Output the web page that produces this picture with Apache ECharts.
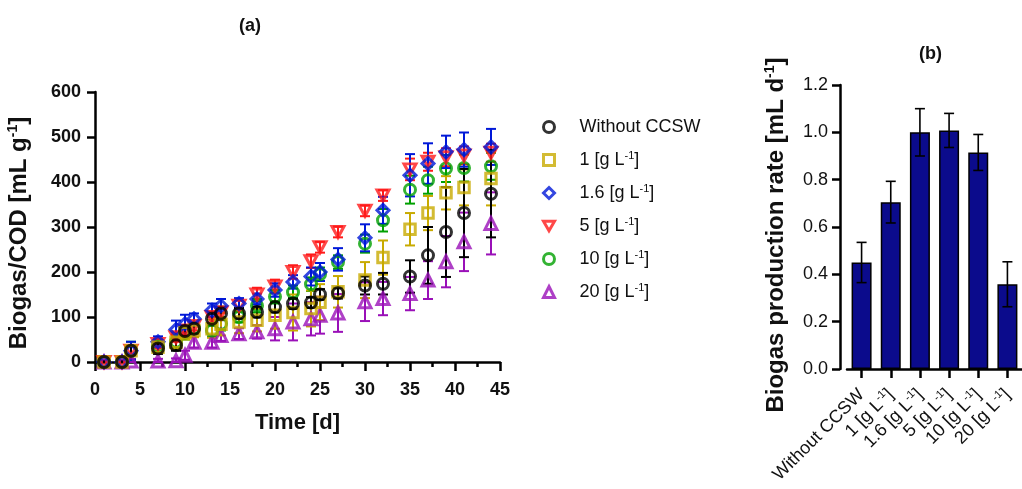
<!DOCTYPE html>
<html>
<head>
<meta charset="utf-8">
<script src="https://cdn.jsdelivr.net/npm/echarts@6/dist/echarts.min.js"></script>
<style>html,body{margin:0;padding:0;background:#fff}#c{width:1022px;height:489px}</style>
</head>
<body>
<div id="c"></div>
<script>
// ---- Data (a) ----
const days = [1,3,4,7,9,10,11,13,14,16,18,20,22,24,25,27,30,32,35,37,39,41,44];
const seriesNames = ['Without CCSW','1 [g L-1]','1.6 [g L-1]','5 [g L-1]','10 [g L-1]','20 [g L-1]'];
const noCCSW    = [0,0,25,30,37,69,74,96,108,108,111,122,130,132,150,153,170,174,190,237,289,331,374];
const noCCSWErr = [3,3,10,12,12,12,12,15,15,12,12,12,12,12,12,12,20,24,36,63,100,98,97];
const c1        = [0,0,25,33,44,65,70,74,84,89,93,104,110,119,133,156,182,232,295,331,376,388,408];
const c1Err     = [3,3,10,12,15,15,15,20,25,25,25,30,40,40,40,35,40,38,36,38,37,40,60];
const c16       = [0,0,25,45,72,85,96,115,125,130,140,160,178,190,200,228,276,337,415,441,467,472,478];
const c16Err    = [3,3,20,12,20,20,12,15,15,12,12,15,15,20,20,25,30,30,47,45,36,38,40];
const c5        = [0,0,25,40,55,70,80,100,110,125,150,168,200,224,255,289,336,370,428,445,455,459,465];
const c5Err     = [3,3,10,10,10,10,10,12,12,12,15,15,15,15,12,12,12,12,24,20,20,20,20];
const c10       = [0,0,25,35,45,65,75,70,85,100,125,145,155,173,195,222,263,315,383,404,430,431,435];
const c10Err    = [3,3,20,15,15,15,12,15,15,12,15,15,15,15,15,15,20,25,31,30,30,30,30];
const c20       = [0,0,2,2,3,15,44,44,59,63,67,74,89,96,104,109,134,141,152,182,223,267,308];
const c20Err    = [2,2,5,5,5,10,12,12,12,12,15,26,41,37,41,42,43,37,37,42,57,65,69];
const xTicks = [0,5,10,15,20,25,30,35,40,45];
const yTicks = [0,100,200,300,400,500,600];

// ---- Data (b) ----
const barCats = ['Without CCSW','1 [g L-1]','1.6 [g L-1]','5 [g L-1]','10 [g L-1]','20 [g L-1]'];
const barVals = [0.45,0.705,1.0,1.008,0.915,0.358];
const barErr  = [0.085,0.088,0.10,0.072,0.076,0.095];
const barYTicks = [0,0.2,0.4,0.6,0.8,1.0,1.2];

const FONT = 'Liberation Sans, Arial, sans-serif';
const DOWN_TRI = 'path://M0,0 L20,0 L10,17.3 Z';
const styles = [
  {color:'#000000', symbol:'circle', size:11},
  {color:'#c8aa00', symbol:'rect', size:10.5},
  {color:'#0018d8', symbol:'diamond', size:12},
  {color:'#ff1a1a', symbol:DOWN_TRI, size:[12,11]},
  {color:'#00a000', symbol:'circle', size:11},
  {color:'#9a10b8', symbol:'triangle', size:12}
];
const vals = [noCCSW,c1,c16,c5,c10,c20];
const errs = [noCCSWErr,c1Err,c16Err,c5Err,c10Err,c20Err];

function rich(n, key){
  return n.includes('-1]') ? '{'+key+'|' + n.replace('-1]', '}{s|-1}{'+key+'|]}') : '{'+key+'|' + n + '}';
}

function errRender(color, halfW, lw){
  return function(params, api){
    const x = api.value(0), y = api.value(1), e = api.value(2);
    const t = api.coord([x, y + e]);
    const b = api.coord([x, Math.max(0, y - e)]);
    const st = {stroke: color, lineWidth: lw};
    return {type:'group', children:[
      {type:'line', shape:{x1:t[0],y1:t[1],x2:b[0],y2:b[1]}, style:st},
      {type:'line', shape:{x1:t[0]-halfW,y1:t[1],x2:t[0]+halfW,y2:t[1]}, style:st},
      {type:'line', shape:{x1:b[0]-halfW,y1:b[1],x2:b[0]+halfW,y2:b[1]}, style:st}
    ]};
  };
}

const series = [];
for (let k = seriesNames.length - 1; k >= 0; k--) {
  const s = styles[k];
  series.push({
    type:'custom', name:'err'+k, xAxisIndex:0, yAxisIndex:0,
    renderItem: errRender(s.color, 5, 2),
    data: days.map((d,i)=>[d, vals[k][i], errs[k][i]]),
    silent:true, z:2
  });
  series.push({
    type:'scatter', name: seriesNames[k], xAxisIndex:0, yAxisIndex:0,
    symbol: s.symbol, symbolSize: s.size,
    itemStyle:{color:'rgba(255,255,255,0)', borderColor:s.color, borderWidth:3},
    data: days.map((d,i)=>[d, vals[k][i]]), z:3
  });
}
series.push({
  type:'bar', xAxisIndex:1, yAxisIndex:1, barWidth:20,
  itemStyle:{color:'#0b0b8c', borderColor:'#000', borderWidth:1.5},
  data: barVals
});
series.push({
  type:'custom', xAxisIndex:1, yAxisIndex:1,
  renderItem: errRender('#000', 5, 1.6),
  data: barVals.map((v,i)=>[i, v, barErr[i]]), z:4
});

const axisLine = {show:true, lineStyle:{color:'#000', width:2.5}};
const chart = echarts.init(document.getElementById('c'));
chart.setOption({
  animation:false,
  backgroundColor:'#fff',
  title:[
    {text:'(a)', left:239, top:17, padding:0, textStyle:{fontFamily:FONT, fontSize:18, fontWeight:'bold', color:'#111'}},
    {text:'(b)', left:919, top:45, padding:0, textStyle:{fontFamily:FONT, fontSize:18, fontWeight:'bold', color:'#111'}}
  ],
  legend:{
    data: seriesNames.map((n,k)=>({name:n, icon:styles[k].symbol,
      itemStyle:{color:'rgba(255,255,255,0)', borderColor:styles[k].color, borderWidth:3}})),
    orient:'vertical', left:542, top:118, padding:0,
    itemWidth:11, itemHeight:11, itemGap:14,
    formatter: n => '{g|}' + rich(n,'n'),
    textStyle:{fontFamily:FONT, color:'#111', rich:{
      g:{width:20},
      n:{fontFamily:FONT, fontSize:18, color:'#111', lineHeight:20},
      s:{fontFamily:FONT, fontSize:11, color:'#111', lineHeight:12, verticalAlign:'top'}
    }}
  },
  grid:[
    {left:95, right:522, top:92, bottom:127},
    {left:847, right:-4, top:85, bottom:120}
  ],
  xAxis:[
    {type:'value', gridIndex:0, min:xTicks[0], max:xTicks[xTicks.length-1], interval:5,
     axisLine, splitLine:{show:false},
     axisTick:{show:true, length:9, lineStyle:{color:'#000', width:2.5}},
     minorTick:{show:true, splitNumber:2, length:5, lineStyle:{color:'#000', width:2.5}},
     axisLabel:{fontFamily:FONT, fontSize:18, fontWeight:'bold', color:'#111', margin:19},
     name:'Time [d]', nameLocation:'middle', nameGap:50,
     nameTextStyle:{fontFamily:FONT, fontSize:22, fontWeight:'bold', color:'#111'}},
    {type:'category', gridIndex:1, data: barCats,
     axisLine, axisTick:{show:true, alignWithLabel:true, length:9, lineStyle:{color:'#000', width:2.5}},
     axisLabel:{rotate:45, margin:23, interval:0, formatter: v => rich(v,'n'),
       rich:{n:{fontFamily:FONT, fontSize:18, color:'#111', lineHeight:20},
             s:{fontFamily:FONT, fontSize:11, color:'#111', lineHeight:12, verticalAlign:'top'}}}}
  ],
  yAxis:[
    {type:'value', gridIndex:0, min:yTicks[0], max:yTicks[yTicks.length-1], interval:100,
     axisLine, splitLine:{show:false},
     axisTick:{show:true, length:8, lineStyle:{color:'#000', width:2.5}},
     axisLabel:{fontFamily:FONT, fontSize:18, fontWeight:'bold', color:'#111', margin:14},
     name:'{b|Biogas/COD [mL g}{s|-1}{b|]}{p|}', nameLocation:'middle', nameGap:62,
     nameTextStyle:{rich:{
       b:{fontFamily:FONT, fontSize:24, fontWeight:'bold', color:'#111', lineHeight:27},
       s:{fontFamily:FONT, fontSize:14, fontWeight:'bold', color:'#111', lineHeight:14, verticalAlign:'top'},
       p:{width:12}}}},
    {type:'value', gridIndex:1, min:barYTicks[0], max:barYTicks[barYTicks.length-1], interval:0.2, offset:7,
     axisLine, splitLine:{show:false},
     axisTick:{show:true, length:8, lineStyle:{color:'#000', width:2.5}},
     axisLabel:{fontFamily:FONT, fontSize:18, color:'#111', margin:12, formatter: v => v.toFixed(1)},
     name:'{b|Biogas production rate [mL d}{s|-1}{b|]}{p|}', nameLocation:'middle', nameGap:50,
     nameTextStyle:{rich:{
       b:{fontFamily:FONT, fontSize:24, fontWeight:'bold', color:'#111', lineHeight:27},
       s:{fontFamily:FONT, fontSize:14, fontWeight:'bold', color:'#111', lineHeight:14, verticalAlign:'top'},
       p:{width:16}}}}
  ],
  series
});
</script>
</body>
</html>
